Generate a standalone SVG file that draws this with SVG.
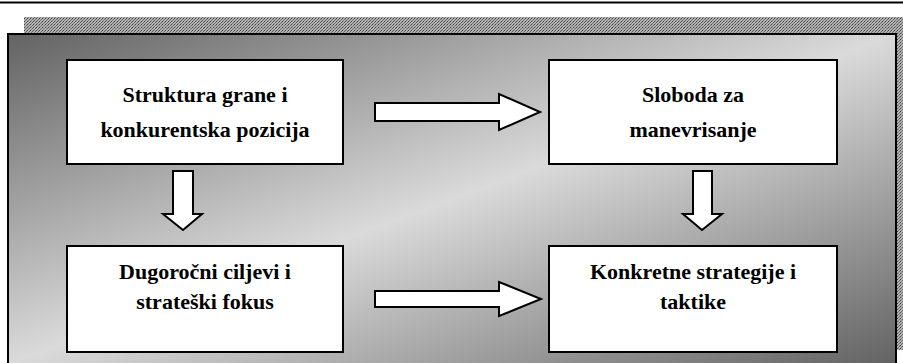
<svg xmlns="http://www.w3.org/2000/svg" width="903" height="363" viewBox="0 0 903 363">
<style>
.box{fill:#fff;stroke:#000;stroke-width:2}
.arr{fill:#fff;stroke:#000;stroke-width:2;stroke-linejoin:miter}
.t{font-family:"Liberation Serif","Times New Roman",serif;font-weight:bold;font-size:22px;fill:#000;text-anchor:middle}
</style>
<defs>
<pattern id="dots" width="3" height="3" patternUnits="userSpaceOnUse">
<rect width="3" height="3" fill="#b0b0b0"/>
<rect width="1" height="1" fill="#444"/>
<rect x="2" y="1" width="1" height="1" fill="#666"/>
<rect x="1" y="2" width="1" height="1" fill="#777"/>
</pattern>
<linearGradient id="bg" x1="0" y1="0" x2="1" y2="1">
<stop offset="0" stop-color="#636363"/>
<stop offset="0.5" stop-color="#dadada"/>
<stop offset="1" stop-color="#636363"/>
</linearGradient>
</defs>
<rect x="0" y="0" width="903" height="363" fill="#fff"/>
<line x1="0" y1="2.5" x2="903" y2="2.5" stroke="#000" stroke-width="2"/>
<g id="frame">
<rect x="24" y="17" width="879" height="333" fill="url(#dots)"/>
<rect x="8" y="34" width="888" height="330" fill="url(#bg)" stroke="#000" stroke-width="2"/>
</g>
<g id="n1">
<rect class="box" x="67" y="60" width="276" height="104"/>
<text class="t" x="205" y="102">Struktura grane i</text>
<text class="t" x="205" y="137">konkurentska pozicija</text>
</g>
<g id="n2">
<rect class="box" x="549" y="60" width="288" height="104"/>
<text class="t" x="693" y="102">Sloboda za</text>
<text class="t" x="693" y="137">manevrisanje</text>
</g>
<g id="n3">
<rect class="box" x="67" y="246" width="276" height="106"/>
<text class="t" x="205" y="279">Dugoročni ciljevi i</text>
<text class="t" x="205" y="309">strateški fokus</text>
</g>
<g id="n4">
<rect class="box" x="549" y="246" width="288" height="106"/>
<text class="t" x="693" y="279">Konkretne strategije i</text>
<text class="t" x="693" y="309">taktike</text>
</g>
<g id="connectors">
<polygon class="arr" points="375,103 499,103 499,94 540,112 499,130 499,121 375,121"/>
<polygon class="arr" points="375,291 499,291 499,282 541,299 499,316 499,307 375,307"/>
<polygon class="arr" points="173,171 193,171 193,214 202,214 183,230 163,214 173,214"/>
<polygon class="arr" points="693,171 712,171 712,214 722,214 702,230 683,214 693,214"/>
</g>
</svg>
